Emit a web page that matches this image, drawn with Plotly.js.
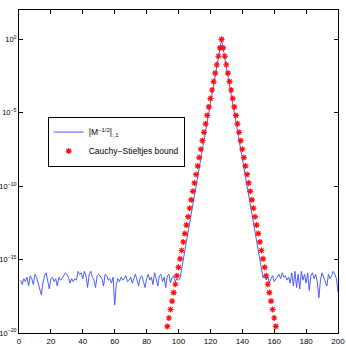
<!DOCTYPE html>
<html>
<head>
<meta charset="utf-8">
<script src="https://cdn.plot.ly/plotly-3.0.1.min.js"></script>
<style>
  html, body { margin: 0; padding: 0; background: #fff; }
  #chart { width: 346px; height: 346px; }
</style>
</head>
<body>
<div id="chart"></div>
<script>
// log10 of |M^{-1/2}|_{:,1}, x = 1..200
var blueLeftNoise = [
  -16.4, -16.7, -16.3, -16.5, -16.2, -16.8, -16.1, -16.3, -16.7, -16.0,
  -16.2, -16.6, -16.9, -17.4, -16.6, -16.1, -15.9, -16.4, -17.0, -16.3,
  -16.2, -16.5, -16.3, -16.8, -16.2, -16.4, -16.3, -16.1, -15.9, -16.0,
  -16.2, -16.6, -16.3, -16.5, -16.3, -16.4, -15.8, -16.0, -15.9, -16.3,
  -15.8, -16.1, -16.9, -16.0, -15.8, -16.2, -16.4, -16.9, -16.1, -16.0,
  -16.2, -16.3, -16.8, -16.0, -16.1, -16.4, -16.3, -16.6, -16.2, -18.1,
  -16.7, -16.3, -16.5, -16.2, -16.4, -16.3, -16.1, -16.5, -16.4, -16.2,
  -16.6, -16.3, -16.0, -16.4, -16.8, -16.2, -16.1, -16.5, -16.9, -16.3,
  -16.0, -16.4, -16.2, -16.7, -15.9, -16.3, -16.8, -16.1, -16.0, -16.5,
  -16.2, -16.9, -16.1, -16.0, -16.6, -16.2, -16.1, -16.5, -16.3, -16.4
];
var bluePeak = [
  -16.25, -15.63, -15.0, -14.38, -13.75, -13.13, -12.5, -11.88, -11.25, -10.63,
  -10.0, -9.38, -8.75, -8.13, -7.5, -6.88, -6.25, -5.63, -5.0, -4.38,
  -3.75, -3.13, -2.5, -1.88, -1.25, -0.63, 0.0,
  -0.63, -1.25, -1.88, -2.5, -3.13, -3.75, -4.38, -5.0, -5.63, -6.25,
  -6.88, -7.5, -8.13, -8.75, -9.38, -10.0, -10.63, -11.25, -11.88, -12.5,
  -13.13, -13.75, -14.38, -15.0, -15.63, -16.25
];
var blueRightNoise = [
  -16.0, -16.4, -16.2, -16.6, -16.3, -16.1, -16.5, -16.3, -16.2, -16.0,
  -16.3, -15.9, -16.2, -16.1, -16.4, -16.2, -16.6, -15.9, -16.8, -15.8,
  -16.9, -16.0, -17.0, -15.8, -16.4, -16.0, -16.6, -15.9, -17.1, -16.1,
  -15.9, -16.3, -16.0, -16.5, -17.6, -16.4, -15.9, -16.2, -16.4, -16.8,
  -16.0, -16.3, -16.1, -15.8, -16.0, -16.3, -17.2
];

// log10 of the Cauchy-Stieltjes bound, x = 93..161
var boundLog = [
  -19.55, -18.98, -18.4, -17.83, -17.25, -16.68, -16.1, -15.53, -14.95, -14.38,
  -13.8, -13.23, -12.65, -12.08, -11.5, -10.93, -10.35, -9.78, -9.2, -8.63,
  -8.05, -7.48, -6.9, -6.33, -5.75, -5.18, -4.6, -4.03, -3.45, -2.88,
  -2.3, -1.73, -1.15, -0.58, 0.0,
  -0.58, -1.15, -1.73, -2.3, -2.88, -3.45, -4.03, -4.6, -5.18, -5.75,
  -6.33, -6.9, -7.48, -8.05, -8.63, -9.2, -9.78, -10.35, -10.93, -11.5,
  -12.08, -12.65, -13.23, -13.8, -14.38, -14.95, -15.53, -16.1, -16.68, -17.25,
  -17.83, -18.4, -18.98, -19.55
];

var yTickVals = [1e-20, 1e-15, 1e-10, 1e-5, 1];
var yTickText = ['10<sup>−20</sup>', '10<sup>−15</sup>', '10<sup>−10</sup>', '10<sup>−5</sup>', '10<sup>0</sup>'];
var xTickVals = [0, 20, 40, 60, 80, 100, 120, 140, 160, 180, 200];

var blueLog = blueLeftNoise.concat(bluePeak, blueRightNoise);
var blueX = [];
var blueY = [];
for (var i = 0; i < blueLog.length; i++) {
  blueX.push(i + 1);
  blueY.push(Math.pow(10, blueLog[i]));
}
var boundX = [];
var boundY = [];
for (var j = 0; j < boundLog.length; j++) {
  boundX.push(93 + j);
  boundY.push(Math.pow(10, boundLog[j]));
}

var traceBlue = {
  x: blueX,
  y: blueY,
  type: 'scatter',
  mode: 'lines',
  name: '|M<sup>−1/2</sup>|<sub>:,1</sub>',
  line: { color: '#3a4cff', width: 0.9 }
};
var traceBound = {
  x: boundX,
  y: boundY,
  type: 'scatter',
  mode: 'markers',
  name: 'Cauchy−Stieltjes bound',
  marker: { symbol: 'asterisk-open', size: 5, line: { color: '#ff1010', width: 1.2 }, color: '#ff1010' }
};

var axisFont = { family: 'Liberation Sans Narrow, Liberation Sans, Arial, sans-serif', size: 8, color: '#000' };

var layout = {
  width: 346,
  height: 346,
  margin: { l: 19, r: 8, t: 10, b: 13 },
  paper_bgcolor: '#fff',
  plot_bgcolor: '#fff',
  showlegend: true,
  font: axisFont,
  xaxis: {
    range: [0, 200],
    tickvals: xTickVals,
    ticks: 'inside',
    ticklen: 4,
    tickcolor: '#000',
    showline: true,
    linecolor: '#000',
    linewidth: 1,
    mirror: 'ticks',
    showgrid: false,
    zeroline: false,
    tickfont: axisFont
  },
  yaxis: {
    type: 'log',
    range: [-20, 2],
    tickvals: yTickVals,
    ticktext: yTickText,
    ticks: 'inside',
    ticklen: 4,
    tickcolor: '#000',
    showline: true,
    linecolor: '#000',
    linewidth: 1,
    mirror: 'ticks',
    showgrid: false,
    zeroline: false,
    ticklabelstandoff: 0,
    tickfont: { family: 'Liberation Sans Narrow, Liberation Sans, Arial, sans-serif', size: 7.5, color: '#000' }
  },
  legend: {
    x: 0.09,
    y: 0.67,
    xanchor: 'left',
    yanchor: 'top',
    bgcolor: '#fff',
    bordercolor: '#000',
    borderwidth: 1,
    font: { family: 'Liberation Sans Narrow, Liberation Sans, Arial, sans-serif', size: 8.5, color: '#000' },
    tracegroupgap: 0
  }
};

Plotly.newPlot('chart', [traceBlue, traceBound], layout, { displayModeBar: false, staticPlot: true });
</script>
</body>
</html>
